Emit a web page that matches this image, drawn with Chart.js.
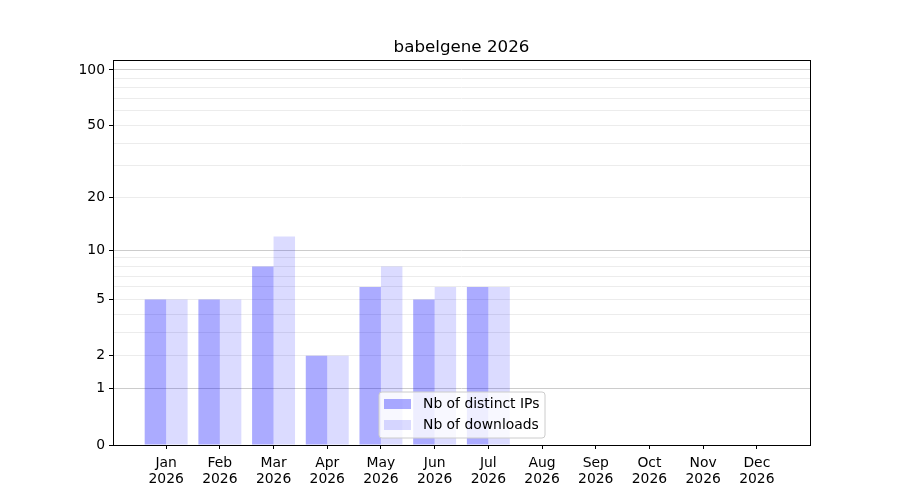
<!DOCTYPE html>
<html>
<head>
<meta charset="utf-8">
<script src="https://cdn.jsdelivr.net/npm/chart.js@4.4.0/dist/chart.umd.min.js"></script>
<style>
  html, body { margin: 0; padding: 0; background: #fff; }
  #wrap { width: 900px; height: 500px; }
</style>
</head>
<body>
<div id="wrap"><canvas id="chart" width="900" height="500"></canvas></div>
<script>
// data
const months = ['Jan', 'Feb', 'Mar', 'Apr', 'May', 'Jun', 'Jul', 'Aug', 'Sep', 'Oct', 'Nov', 'Dec'];
const year = '2026';
const distinctIPs = [5, 5, 8, 2, 6, 5, 6, 0, 0, 0, 0, 0];
const downloads = [5, 5, 12, 2, 8, 6, 6, 0, 0, 0, 0, 0];
const yLabelTicks = [0, 1, 2, 5, 10, 20, 50, 100];
const yMajorGrid = [1, 10, 100];
const yMinorGrid = [3, 4, 6, 7, 8, 9, 30, 40, 60, 70, 80, 90];

// y axis is log10(v + 1)
const tr = v => Math.log10(v + 1);
const untr = t => Math.round(Math.pow(10, t) - 1);

const col_ips = 'rgba(0, 0, 255, 0.33)';
const col_dl = 'rgba(0, 0, 255, 0.14)';

Chart.defaults.font.family = 'DejaVu Sans';
Chart.defaults.font.size = 13.9;
Chart.defaults.color = '#000';

const data = {
  datasets: [{
    label: 'Nb of distinct IPs',
    data: distinctIPs.map((v, i) => ({ x: i, y: tr(v) })),
    backgroundColor: col_ips,
    borderWidth: 0,
    inflateAmount: 0
  }, {
    label: 'Nb of downloads',
    data: downloads.map((v, i) => ({ x: i, y: tr(v) })),
    backgroundColor: col_dl,
    borderWidth: 0,
    inflateAmount: 0
  }]
};

// box round the plot + title
const frame = {
  id: 'frame',
  afterDraw(chart) {
    const { ctx, chartArea } = chart;
    ctx.save();
    ctx.strokeStyle = '#000';
    ctx.lineWidth = 1;
    ctx.strokeRect(Math.round(chartArea.left) + 0.5, Math.round(chartArea.top) + 0.5,
      Math.round(chartArea.right - chartArea.left), Math.round(chartArea.bottom - chartArea.top));

    ctx.font = '16.7px "DejaVu Sans"';
    ctx.fillStyle = '#000';
    ctx.textAlign = 'center';
    ctx.textBaseline = 'alphabetic';
    ctx.fillText('babelgene ' + year, (chartArea.left + chartArea.right) / 2, chartArea.top - 8);
    ctx.restore();
  }
};

// legend inside the plot, lower center
const innerLegend = {
  id: 'innerLegend',
  afterDatasetsDraw(chart) {
    const { ctx, chartArea } = chart;
    const w = 166, h = 46;
    const x = (chartArea.left + chartArea.right) / 2 - w / 2 + 0.5;
    const y = chartArea.bottom - 7 - h;
    ctx.save();
    ctx.beginPath();
    ctx.roundRect(x, y, w, h, 3);
    ctx.fillStyle = 'rgba(255,255,255,0.8)';
    ctx.fill();
    ctx.strokeStyle = '#cccccc';
    ctx.lineWidth = 1;
    ctx.stroke();

    ctx.font = '13.9px "DejaVu Sans"';
    ctx.textAlign = 'left';
    ctx.textBaseline = 'middle';
    chart.data.datasets.forEach((ds, i) => {
      const cy = y + 12 + i * 21;
      ctx.fillStyle = ds.backgroundColor;
      ctx.fillRect(x + 5, cy - 5, 27, 10);
      ctx.fillStyle = '#000';
      ctx.fillText(ds.label, x + 44, cy);
    });
    ctx.restore();
  }
};

const config = {
  type: 'bar',
  data: data,
  options: {
    responsive: false,
    animation: false,
    devicePixelRatio: 1,
    layout: { padding: { top: 60, right: 90, left: 0, bottom: 0 } },
    datasets: {
      bar: { categoryPercentage: 0.8, barPercentage: 1.0 }
    },
    scales: {
      x: {
        type: 'linear',
        min: -0.99,
        max: 11.99,
        offset: false,
        afterBuildTicks(scale) {
          scale.ticks = months.map((m, i) => ({ value: i }));
        },
        afterFit(scale) { scale.height = 55; },
        ticks: {
          autoSkip: false,
          maxRotation: 0,
          padding: 7,
          font: { lineHeight: 1.1 },
          callback: v => [months[v], year]
        },
        grid: {
          offset: false,
          drawOnChartArea: false,
          drawTicks: true,
          tickLength: 4,
          tickColor: '#000'
        },
        border: { display: false }
      },
      y: {
        type: 'linear',
        min: 0,
        max: 2.0577,
        afterBuildTicks(scale) {
          const all = yLabelTicks.concat(yMinorGrid).sort((a, b) => a - b);
          scale.ticks = all.map(v => ({ value: tr(v) }));
        },
        afterFit(scale) { scale.width = 113; },
        ticks: {
          autoSkip: false,
          padding: 4,
          callback: t => {
            const v = untr(t);
            return yLabelTicks.includes(v) ? String(v) : '';
          }
        },
        grid: {
          drawTicks: true,
          tickLength: 4,
          lineWidth: 1,
          color: c => {
            const v = untr(c.tick.value);
            if (v === 0) return 'rgba(0,0,0,0)';
            return yMajorGrid.includes(v) ? '#cccccc' : '#ececec';
          },
          tickColor: c => yLabelTicks.includes(untr(c.tick.value)) ? '#000' : 'rgba(0,0,0,0)'
        },
        border: { display: false }
      }
    },
    plugins: {
      legend: { display: false },
      title: { display: false },
      tooltip: { enabled: false }
    }
  },
  plugins: [innerLegend, frame]
};

const myChart = new Chart(document.getElementById('chart').getContext('2d'), config);
</script>
</body>
</html>
